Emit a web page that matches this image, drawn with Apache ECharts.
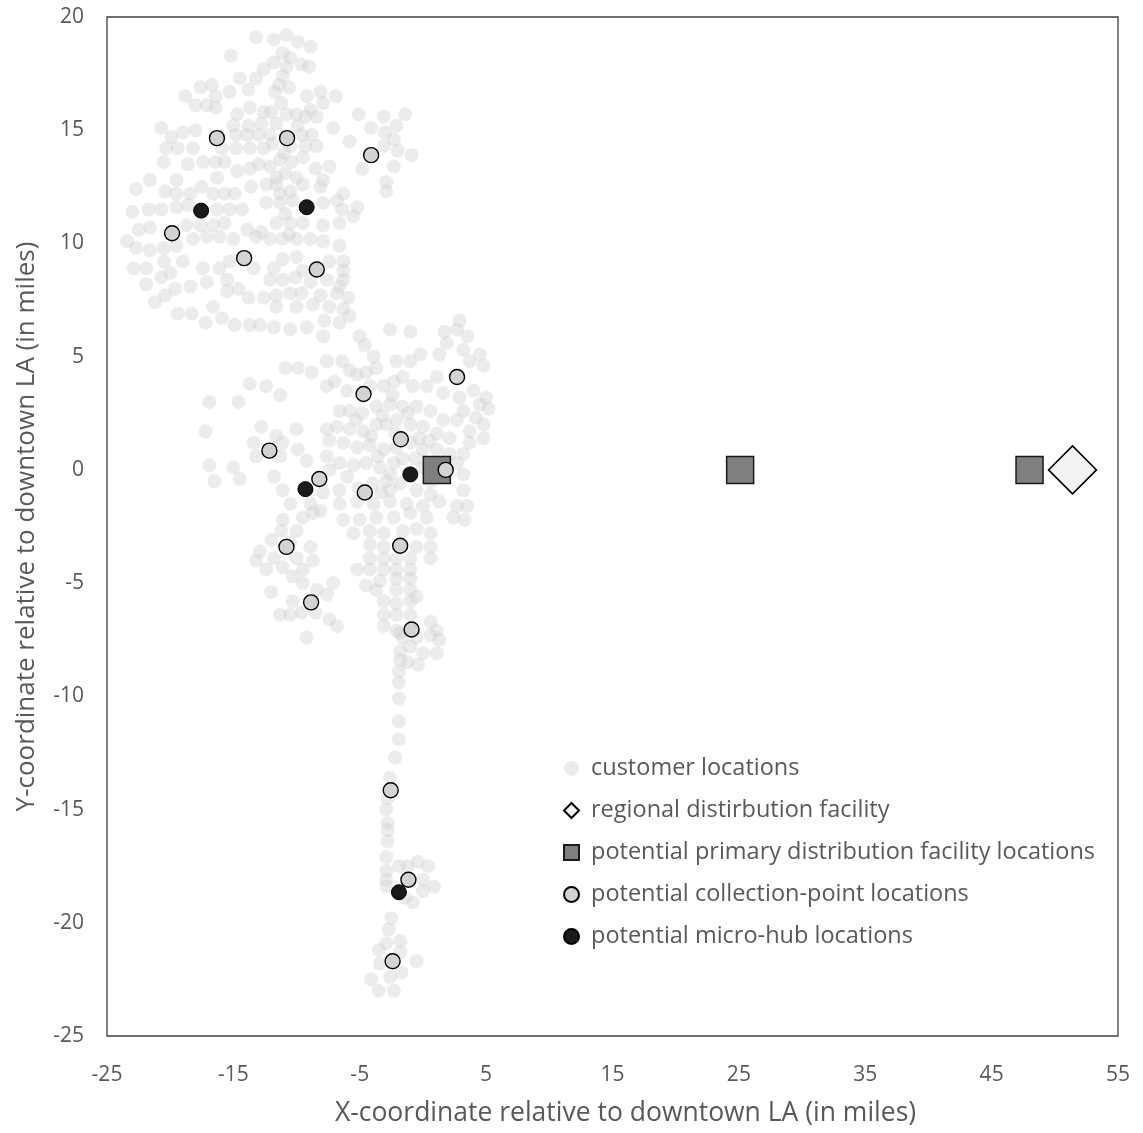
<!DOCTYPE html>
<html>
<head>
<meta charset="utf-8">
<script src="https://cdn.jsdelivr.net/npm/echarts@6/dist/echarts.min.js"></script>
<style>
  html, body { margin: 0; padding: 0; background: #ffffff; }
  #chart { width: 1143px; height: 1133px; }
</style>
</head>
<body>
<div id="chart"></div>
<script>
// Customer locations, miles east (x) and north (y) of downtown LA
const customerLocations = [
  // northern cluster
  [-13.2,19.1],[-11.8,19.0],[-10.8,19.2],[-9.9,18.9],[-8.9,18.7],[-15.2,18.3],[-11.1,18.4],[-10.5,18.2],
  [-11.8,18.0],[-12.6,17.7],[-9.6,17.9],[-9.0,17.8],[-10.8,17.8],[-11.1,17.4],[-14.5,17.3],[-13.2,17.3],
  [-11.4,17.0],[-17.6,16.9],[-16.7,17.0],[-11.7,16.7],[-18.8,16.5],[-16.4,16.5],[-15.3,16.7],[-13.8,16.8],
  [-9.2,16.5],[-8.1,16.7],[-6.9,16.5],[-18.0,16.1],[-17.1,16.1],[-16.4,16.0],[-13.7,16.0],[-12.6,15.8],
  [-12.0,15.8],[-10.8,15.7],[-10.0,15.7],[-8.9,15.9],[-7.9,16.2],[-14.7,15.7],[-9.3,15.6],[-8.4,15.6],
  [-5.1,15.7],[-3.1,15.6],[-1.4,15.7],[-20.7,15.1],[-19.0,14.9],[-18.0,15.0],[-15.0,15.2],[-13.8,15.2],
  [-12.8,15.3],[-11.6,15.3],[-9.9,15.2],[-7.1,15.1],[-4.1,15.1],[-2.1,15.2],[-19.9,14.7],[-14.8,14.8],
  [-13.9,14.8],[-13.0,14.8],[-12.1,14.8],[-9.6,14.8],[-8.8,14.8],[-3.0,14.9],[-5.8,14.5],[-2.3,14.6],
  [-20.3,14.2],[-19.4,14.2],[-18.2,14.2],[-15.9,14.2],[-14.8,14.2],[-13.7,14.2],[-12.6,14.2],[-10.5,14.3],
  [-9.3,14.3],[-8.4,14.3],[-3.1,14.3],[-2.0,14.1],[-0.9,13.9],[-20.5,13.6],[-18.6,13.5],[-17.4,13.6],
  [-16.4,13.6],[-15.7,13.6],[-14.7,13.2],[-13.7,13.3],[-13.0,13.5],[-12.1,13.4],[-11.3,13.7],[-10.4,13.6],
  [-9.5,13.8],[-8.5,13.3],[-7.4,13.4],[-4.8,13.3],[-2.3,13.4],[-21.6,12.8],[-19.5,12.8],[-16.3,12.9],
  [-11.6,12.9],[-10.0,12.9],[-7.9,12.8],[-2.9,12.7],[-22.7,12.4],[-20.4,12.3],[-19.5,12.2],[-18.4,12.2],
  [-17.5,12.5],[-16.6,12.2],[-15.7,12.2],[-14.9,12.2],[-13.6,12.5],[-12.4,12.6],[-11.6,12.6],[-10.5,12.3],
  [-9.5,12.6],[-8.1,12.5],[-6.3,12.2],[-2.9,12.3],[-23.0,11.4],[-21.7,11.5],[-20.7,11.5],[-19.5,11.6],
  [-18.6,11.7],[-16.3,11.5],[-15.3,11.5],[-14.3,11.5],[-12.4,11.8],[-11.3,11.8],[-10.3,11.9],[-7.9,11.8],
  [-6.8,11.9],[-5.2,11.6],[-5.5,11.2],[-6.4,11.5],[-22.5,10.6],[-21.6,10.7],[-18.7,10.8],[-17.6,10.8],
  [-16.6,10.8],[-15.7,10.9],[-13.9,10.6],[-12.8,10.5],[-11.6,10.9],[-10.5,10.9],[-9.5,10.9],[-7.9,10.8],
  [-6.6,10.9],[-23.4,10.1],[-22.7,9.8],[-21.6,9.7],[-20.5,9.8],[-19.5,9.9],[-18.2,10.2],[-17.1,10.3],
  [-16.1,10.3],[-15.0,10.2],[-13.2,10.3],[-12.1,10.2],[-11.1,10.2],[-10.0,10.2],[-8.9,10.2],[-7.9,10.1],
  [-6.6,9.9],[-22.9,8.9],[-21.9,8.9],[-20.5,9.2],[-20.0,8.7],[-19.0,9.2],[-17.4,8.9],[-16.1,8.9],
  [-15.3,9.2],[-13.4,8.9],[-11.8,8.9],[-11.1,9.3],[-10.0,9.4],[-9.5,8.8],[-7.4,9.2],[-6.3,9.2],
  [-6.3,8.8],[-21.9,8.2],[-20.7,8.5],[-19.6,8.0],[-18.4,8.1],[-17.1,8.3],[-15.5,8.4],[-14.6,8.0],
  [-12.1,8.4],[-11.1,8.4],[-10.1,8.5],[-8.9,8.3],[-7.6,8.4],[-6.6,8.1],[-6.3,8.4],[-21.2,7.4],
  [-20.4,7.7],[-16.6,7.2],[-15.5,7.9],[-13.8,7.6],[-12.6,7.6],[-11.6,7.7],[-10.5,7.8],[-9.6,7.8],
  [-8.1,7.7],[-6.8,7.8],[-5.9,7.6],[-11.6,7.2],[-10.0,7.2],[-8.7,7.3],[-7.4,7.2],[-6.3,7.1],
  [-19.4,6.9],[-18.3,6.9],[-17.2,6.5],[-15.9,6.7],[-14.9,6.4],[-13.7,6.4],[-12.9,6.4],[-11.8,6.3],
  [-10.5,6.2],[-9.2,6.3],[-7.8,6.6],[-6.6,6.5],[-5.8,6.8],[-5.0,5.9],[-7.9,5.9],[-2.6,6.2],[-1.0,6.1],
  [-11.0,14.0],[-10.9,13.1],[-11.3,12.2],[-10.9,11.3],[-11.2,16.2],[-10.6,16.9],[-11.9,14.4],[-10.6,10.4],
  // central cluster
  [-4.6,5.5],[2.9,6.6],[1.7,6.1],[2.7,6.2],[3.5,5.9],[1.9,5.6],[1.3,5.1],[3.2,5.3],[4.5,5.1],
  [3.7,4.8],[4.8,4.6],[-0.2,5.1],[-1.0,4.8],[-2.1,4.8],[-3.9,5.0],[-3.7,4.5],[-4.5,4.3],[-5.2,4.2],
  [-5.8,4.4],[-7.6,4.8],[-6.4,4.8],[-10.9,4.5],[-9.9,4.5],[-8.8,4.3],[-13.7,3.8],[-12.4,3.7],
  [-11.3,3.3],[-14.6,3.0],[-7.6,3.7],[-7.0,3.9],[-6.0,3.5],[-4.2,3.7],[-3.1,3.7],[-2.3,3.9],
  [-1.6,4.1],[-0.8,3.7],[0.3,3.7],[1.1,4.1],[1.6,3.4],[2.9,3.2],[4.0,3.5],[5.0,3.2],[4.5,2.9],
  [5.2,2.7],[3.2,2.6],[4.2,2.3],[4.8,2.0],[3.7,1.7],[4.8,1.4],[3.7,1.2],[3.2,0.7],[2.7,0.3],
  [3.2,-0.2],[-6.6,2.6],[-5.8,2.6],[-4.8,2.5],[-3.7,2.8],[-2.6,2.9],[-1.6,2.8],[-0.5,2.8],[0.6,2.6],
  [1.6,2.2],[2.7,2.2],[-7.6,1.8],[-6.8,1.9],[-5.8,1.8],[-4.7,1.7],[-3.7,2.0],[-2.9,2.0],[-2.1,2.2],
  [-1.0,2.0],[0.0,1.9],[1.1,1.6],[2.1,1.4],[-7.4,1.3],[-6.3,1.2],[-5.2,1.0],[-4.2,1.1],[-3.1,0.9],
  [-2.1,1.0],[-1.0,1.2],[0.0,0.9],[1.1,0.9],[2.1,0.7],[-7.6,0.6],[-6.6,0.3],[-5.5,0.2],[-4.5,0.3],
  [-3.4,0.1],[-2.3,0.3],[0.0,0.1],[-12.8,1.9],[-11.6,1.5],[-10.0,1.8],[-13.4,1.2],[-11.1,1.2],
  [-9.9,0.9],[-13.2,0.6],[-11.3,0.6],[-9.2,0.4],[-15.0,0.1],[-7.4,0.0],[-16.9,3.0],[-17.2,1.7],
  [-16.9,0.2],[-16.5,-0.5],[-14.5,-0.4],[-11.8,-0.3],[-6.0,-0.3],[-2.9,-0.5],[0.6,-0.5],[3.2,-0.9],
  [0.6,-1.1],[-0.5,-0.9],[-2.6,-0.9],[-6.6,-0.9],[-7.9,-1.0],[-11.1,-0.9],[-10.5,-1.5],[-8.9,-1.5],
  [-8.1,-1.8],[-6.6,-1.5],[-5.2,-1.4],[-3.9,-1.5],[-2.6,-1.4],[-1.3,-1.5],[0.0,-1.6],[1.3,-1.4],
  [2.7,-1.6],[3.5,-1.6],[2.4,-2.1],[3.3,-2.2],[-11.1,-2.2],[-9.5,-2.1],[-8.7,-1.9],[-6.3,-2.2],
  [-5.0,-2.2],[-3.7,-2.1],[-2.3,-2.1],[-1.0,-1.9],[0.3,-2.1],[-11.2,-2.7],[-10.0,-2.7],[-5.5,-2.8],
  [-4.2,-2.7],[-3.1,-2.8],[-1.6,-2.7],[-0.5,-2.6],[0.6,-2.8],[-12.0,-3.1],[-10.5,-3.2],[-4.2,-3.3],
  [-3.1,-3.4],[-0.5,-3.4],[0.6,-3.4],[-12.9,-3.6],[-8.9,-3.4],[-11.8,-3.9],[-10.0,-3.9],[-8.7,-4.0],
  [-13.2,-4.0],[-4.2,-3.9],[-3.1,-3.9],[-2.1,-3.9],[-1.0,-3.9],[0.6,-3.9],[-12.4,-4.4],[-11.1,-4.3],
  [-9.5,-4.4],[-5.2,-4.4],[-4.2,-4.4],[-3.1,-4.4],[-2.1,-4.4],[-1.0,-4.4],[-10.3,-4.7],[-9.5,-5.0],
  [-7.1,-5.0],[-4.5,-5.1],[-3.4,-4.9],[-2.1,-4.8],[-1.0,-4.8],[-12.0,-5.4],[-8.4,-5.3],[-7.6,-5.5],
  [-3.7,-5.3],[-2.1,-5.3],[-1.0,-5.3],[-0.5,-5.6],[-10.3,-5.8],[-11.3,-6.4],[-10.5,-6.4],[-9.6,-6.3],
  [-8.5,-6.3],[-7.4,-6.6],[-6.8,-6.9],[-3.1,-5.8],[-2.1,-5.9],[-1.0,-5.8],[-3.1,-6.4],[-2.1,-6.4],
  [-1.0,-6.4],[-3.1,-6.9],[-2.1,-7.1],[0.6,-6.7],[1.1,-7.1],[0.6,-7.3],[-9.2,-7.4],[-1.6,-7.4],
  [-3.2,2.4],[-2.2,1.6],[-1.2,2.5],[-0.3,1.4],[-4.1,1.5],[-5.3,2.2],[-3.6,0.6],[-1.6,0.5],
  [-0.6,0.5],[0.5,1.3],[-2.6,-0.2],[-4.0,-0.6],[-5.1,-0.8],[-1.8,-0.6],[-3.3,-1.0],[-2.4,3.3],
  // southern corridor
  [-1.8,-7.2],[-0.5,-7.4],[1.3,-7.5],[1.1,-8.1],[0.0,-8.1],[-1.0,-7.8],[-1.8,-8.0],[-1.8,-8.4],
  [-1.2,-8.5],[-0.4,-8.6],[-1.9,-8.9],[-1.9,-9.4],[-1.9,-10.1],[-1.9,-11.1],[-1.9,-11.9],[-2.2,-12.7],
  [-2.6,-13.6],[-2.8,-14.5],[-2.9,-15.0],[-2.8,-15.6],[-2.8,-15.9],[-2.8,-16.4],[-2.9,-17.1],[-2.9,-17.7],
  [-2.9,-18.1],[-2.9,-18.4],[-1.9,-17.5],[-1.2,-17.5],[-0.4,-17.3],[0.4,-17.5],[0.0,-18.1],[0.9,-18.4],
  [0.0,-18.6],[-0.8,-19.1],[-1.4,-18.9],[-2.5,-19.8],[-2.7,-20.3],[-2.9,-20.9],[-1.8,-20.8],[-3.5,-21.2],
  [-3.4,-21.8],[-1.8,-21.3],[-1.7,-22.2],[-0.5,-21.7],[-2.6,-22.4],[-4.1,-22.5],[-3.5,-23.0],[-2.3,-23.0]
];

const regionalFacility = [[51.4, 0]];
const primaryFacilities = [[1.1, 0], [25.1, 0], [48.0, 0]];
const collectionPoints = [
  [-16.3,14.65],[-10.75,14.65],[-4.1,13.9],[-19.85,10.45],[-14.15,9.35],[-8.4,8.85],
  [2.7,4.1],[-4.7,3.35],[-1.75,1.35],[-12.15,0.85],[1.8,0.0],[-8.2,-0.4],
  [-4.6,-1.0],[-10.8,-3.4],[-1.8,-3.35],[-8.85,-5.85],[-0.9,-7.05],[-2.55,-14.15],
  [-1.15,-18.1],[-2.4,-21.7]
];
const microHubs = [[-17.55,11.45],[-9.2,11.6],[-1.0,-0.2],[-9.3,-0.85],[-1.9,-18.65]];

const xTicks = { min: -25, max: 55, step: 10 };
const yTicks = { min: -25, max: 20, step: 5 };

const seriesNames = [
  'customer locations',
  'regional distirbution facility',
  'potential primary distribution facility locations',
  'potential collection-point locations',
  'potential micro-hub locations'
];

const FONT = '"Open Sans", "Noto Sans", sans-serif';
const TEXT = '#595959';

const chart = echarts.init(document.getElementById('chart'), null, { renderer: 'canvas' });

chart.setOption({
  animation: false,
  backgroundColor: '#ffffff',
  grid: {
    left: 107, top: 17, right: 25, bottom: 97,
    show: true, borderColor: '#404040', borderWidth: 1.3, backgroundColor: 'transparent'
  },
  xAxis: {
    type: 'value', min: xTicks.min, max: xTicks.max, interval: xTicks.step,
    name: 'X-coordinate relative to downtown LA (in miles)',
    nameLocation: 'middle', nameGap: 64,
    nameTextStyle: { fontFamily: FONT, fontSize: 26.5, color: TEXT, padding: [0, 0, 0, 26] },
    axisLine: { show: false }, axisTick: { show: false }, splitLine: { show: false },
    axisLabel: { fontFamily: FONT, fontSize: 21, color: TEXT, margin: 29 }
  },
  yAxis: {
    type: 'value', min: yTicks.min, max: yTicks.max, interval: yTicks.step,
    name: 'Y-coordinate relative to downtown LA (in miles)',
    nameLocation: 'middle', nameGap: 67,
    nameTextStyle: { fontFamily: FONT, fontSize: 26, color: TEXT },
    axisLine: { show: false }, axisTick: { show: false }, splitLine: { show: false },
    axisLabel: { fontFamily: FONT, fontSize: 21, color: TEXT, margin: 23 }
  },
  legend: {
    orient: 'vertical', left: 558, top: 751,
    itemWidth: 15, itemHeight: 15, itemGap: 17,
    data: seriesNames,
    textStyle: { fontFamily: FONT, fontSize: 23.5, color: TEXT, lineHeight: 25, padding: [0, 0, 0, 7] }
  },
  series: [
    {
      name: seriesNames[0], type: 'scatter', data: customerLocations, z: 1,
      symbol: 'circle', symbolSize: 14,
      itemStyle: { color: '#cfcfcf', opacity: 0.4 },
      emphasis: { disabled: true }
    },
    {
      name: seriesNames[1], type: 'scatter', data: regionalFacility, z: 3,
      symbol: 'diamond', symbolSize: [48, 48],
      itemStyle: { color: '#f2f2f2', borderColor: '#000000', borderWidth: 1.5, opacity: 1 },
      emphasis: { disabled: true }
    },
    {
      name: seriesNames[2], type: 'scatter', data: primaryFacilities, z: 2,
      symbol: 'rect', symbolSize: 27,
      itemStyle: { color: '#7f7f7f', borderColor: '#1a1a1a', borderWidth: 1.5, opacity: 1 },
      emphasis: { disabled: true }
    },
    {
      name: seriesNames[3], type: 'scatter', data: collectionPoints, z: 4,
      symbol: 'circle', symbolSize: 15,
      itemStyle: { color: '#d3d3d3', borderColor: '#000000', borderWidth: 1.4, opacity: 1 },
      emphasis: { disabled: true }
    },
    {
      name: seriesNames[4], type: 'scatter', data: microHubs, z: 5,
      symbol: 'circle', symbolSize: 15,
      itemStyle: { color: '#1a1a1a', borderColor: '#000000', borderWidth: 1, opacity: 1 },
      emphasis: { disabled: true }
    }
  ]
});
</script>
</body>
</html>
